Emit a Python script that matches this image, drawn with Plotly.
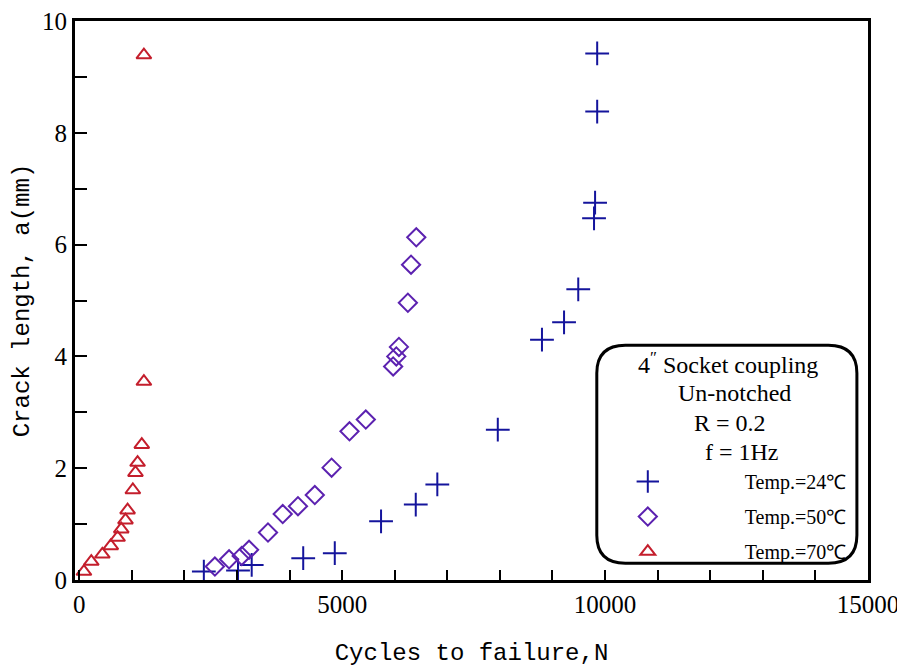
import plotly.graph_objects as go

# Temp = 24 C
n_24 = [2370, 3020, 3280, 4260, 4860, 5740, 6400, 6810, 7960, 8800, 9220, 9490, 9790, 9810, 9850, 9850]
a_24 = [0.15, 0.17, 0.27, 0.39, 0.48, 1.05, 1.35, 1.71, 2.69, 4.30, 4.61, 5.20, 6.47, 6.75, 8.38, 9.42]

# Temp = 50 C
n_50 = [2580, 2850, 3090, 3230, 3590, 3870, 4160, 4480, 4800, 5140, 5450, 5970, 6030, 6080, 6250, 6310, 6410]
a_50 = [0.24, 0.37, 0.43, 0.54, 0.85, 1.18, 1.32, 1.52, 2.01, 2.66, 2.87, 3.82, 4.00, 4.17, 4.96, 5.64, 6.13]

# Temp = 70 C
n_70 = [90, 230, 440, 600, 730, 800, 880, 920, 1020, 1070, 1110, 1190, 1230, 1230]
a_70 = [0.15, 0.33, 0.46, 0.61, 0.76, 0.91, 1.07, 1.25, 1.61, 1.92, 2.10, 2.42, 3.55, 9.39]

x_ticks = [0, 5000, 10000, 15000]
x_tick_labels = ["0", "5000", "10000", "15000"]
y_ticks = [0, 2, 4, 6, 8, 10]

names = ["Temp.=24\u2103", "Temp.=50\u2103", "Temp.=70\u2103"]
info_lines = ["4<sup>\u2033</sup> Socket coupling", "Un-notched", "R = 0.2", "f = 1Hz"]

blue, purple, red = "#14149c", "#5c22b0", "#c41e2c"

fig = go.Figure()
fig.add_trace(go.Scatter(x=n_24, y=a_24, mode="markers", name=names[0], legendgroup="a",
                         marker=dict(symbol="cross-thin-open", size=17, color=blue,
                                     line=dict(color=blue, width=2))))
fig.add_trace(go.Scatter(x=n_50, y=a_50, mode="markers", name=names[1], legendgroup="b",
                         marker=dict(symbol="diamond-open", size=14, color=purple,
                                     line=dict(color=purple, width=2))))
fig.add_trace(go.Scatter(x=n_70, y=a_70, mode="markers", name=names[2], legendgroup="c",
                         marker=dict(symbol="triangle-up-open", size=13, color=red,
                                     line=dict(color=red, width=2))))

# rounded legend box (paper coords)
x0, x1, y0, y1 = 0.658, 0.986, 0.030, 0.420
rx, ry = 0.036, 0.05
path = (f"M {x0+rx},{y0} L {x1-rx},{y0} Q {x1},{y0} {x1},{y0+ry} "
        f"L {x1},{y1-ry} Q {x1},{y1} {x1-rx},{y1} L {x0+rx},{y1} "
        f"Q {x0},{y1} {x0},{y1-ry} L {x0},{y0+ry} Q {x0},{y0} {x0+rx},{y0} Z")
fig.add_shape(type="path", path=path, xref="paper", yref="paper",
              line=dict(color="black", width=3), fillcolor="rgba(0,0,0,0)")

ann_x = [0.8235, 0.832, 0.826, 0.841]
ann_y = [0.388, 0.335, 0.281, 0.229]
for t, xx, yy in zip(info_lines, ann_x, ann_y):
    fig.add_annotation(text=t, x=xx, y=yy, xref="paper", yref="paper", showarrow=False,
                       font=dict(family="Liberation Serif", size=24, color="black"),
                       xanchor="center", yanchor="middle")

fig.update_layout(
    width=905, height=669,
    margin=dict(l=67, r=45, t=13, b=97, autoexpand=False),
    paper_bgcolor="white", plot_bgcolor="white",
    showlegend=True,
    legend=dict(x=0.6, y=0.211, xanchor="left", yanchor="top",
                bgcolor="rgba(0,0,0,0)", borderwidth=0,
                font=dict(family="Liberation Serif", size=20, color="black"),
                itemwidth=184, tracegroupgap=6, traceorder="grouped"),
    xaxis=dict(range=[-80, 15000], tickvals=x_ticks, ticktext=x_tick_labels,
               ticklabeloverflow="allow", automargin=False,
               ticks="inside", ticklen=10, tickwidth=2, tickcolor="black",
               minor=dict(dtick=1000, tick0=0, ticks="inside", ticklen=10, tickwidth=2, tickcolor="black"),
               showline=True, linewidth=3, linecolor="black", mirror=True,
               showgrid=False, zeroline=False,
               tickfont=dict(family="Liberation Serif", size=25, color="black"),
               title=dict(text="Cycles to failure,N", standoff=27,
                          font=dict(family="Liberation Mono", size=24, color="black"))),
    yaxis=dict(range=[0, 10], tickvals=y_ticks,
               ticklabeloverflow="allow", automargin=False,
               ticks="inside", ticklen=12, tickwidth=2, tickcolor="black",
               minor=dict(dtick=1, tick0=0, ticks="inside", ticklen=12, tickwidth=2, tickcolor="black"),
               showline=True, linewidth=3, linecolor="black", mirror=True,
               showgrid=False, zeroline=False,
               tickfont=dict(family="Liberation Serif", size=25, color="black"),
               title=dict(text="Crack length, a(mm)", standoff=6,
                          font=dict(family="Liberation Mono", size=24, color="black"))),
)

fig.write_html("out.html")
